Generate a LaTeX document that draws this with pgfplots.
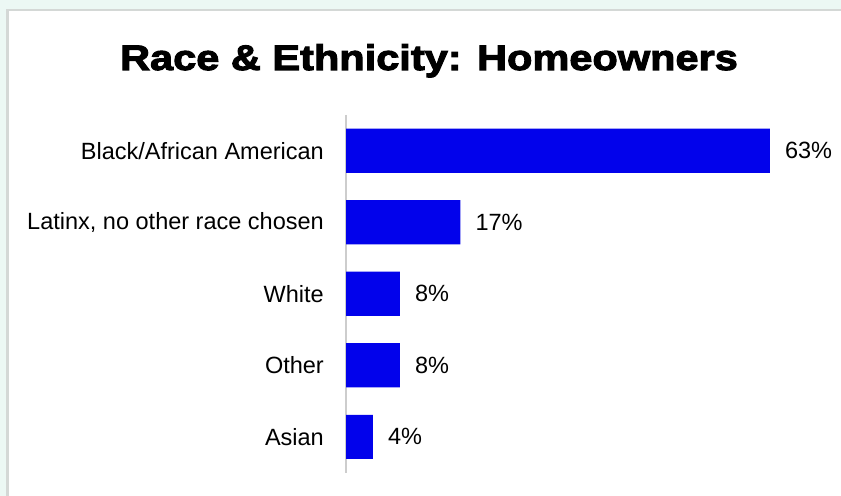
\documentclass[border=0pt]{standalone}
\usepackage{pgfplots}
\pgfplotsset{compat=1.18}
\usepackage{fontspec}
\setmainfont{Liberation Sans}
\newfontfamily\titlefont[FakeStretch=1.17,FakeBold=3]{Liberation Sans Bold}
\definecolor{barblue}{RGB}{2,2,235}
\definecolor{bgteal}{RGB}{236,248,244}
\definecolor{framegray}{RGB}{212,216,214}
\definecolor{axisgray}{RGB}{205,205,205}
\begin{document}
\begin{tikzpicture}[x=1bp,y=1bp]
\fill[bgteal] (0,0) rectangle (841,496);
\fill[framegray] (6,0) rectangle (841,487);
\fill[white] (8.5,0) rectangle (841,484.5);
\node[anchor=base,inner sep=0pt,font=\titlefont\fontsize{35.5bp}{40bp}\selectfont] at (429,426) {Race \& Ethnicity: Homeowners};
\begin{axis}[
  at={(346bp,23.5bp)}, anchor=south west,
  scale only axis, width=471bp, height=357.5bp,
  xbar, bar width=44bp,
  xmin=0, xmax=70, ymin=-0.5, ymax=4.5, y dir=reverse,
  axis x line=none, axis y line=left,
  y axis line style={-, draw=axisgray, line width=1.3bp},
  ytick={0,1,2,3,4},
  yticklabels={Black/African American, {Latinx, no other race chosen}, White, Other, Asian},
  major tick length=0pt,
  /pgf/number format/assume math mode=true,
  yticklabel style={inner sep=0pt, anchor=east, xshift=-22bp, font=\fontsize{23.5bp}{28bp}\selectfont},
  nodes near coords={\pgfmathprintnumber{\pgfplotspointmeta}\%},
  every node near coord/.append style={inner sep=0pt, anchor=west, xshift=15bp, font=\fontsize{23.5bp}{28bp}\selectfont, text=black},
  point meta=x,
  clip=false,
]
\addplot[draw=none, fill=barblue] coordinates {(63,0) (17,1) (8,2) (8,3) (4,4)};
\end{axis}
\end{tikzpicture}
\end{document}
